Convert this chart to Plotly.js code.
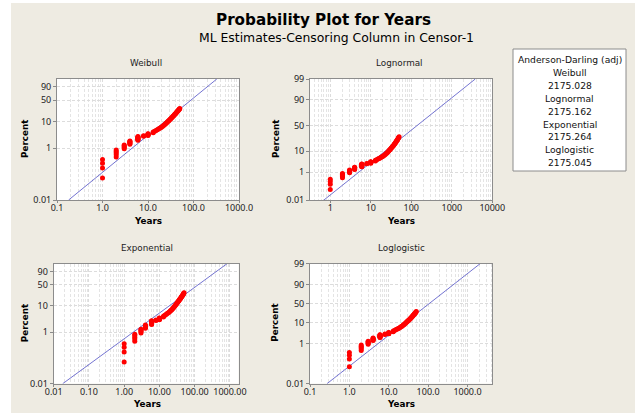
<!DOCTYPE html>
<html>
<head>
<meta charset="utf-8">
<script src="https://cdn.plot.ly/plotly-3.0.1.min.js"></script>
<style>
  html, body { margin: 0; padding: 0; background: #ffffff; width: 635px; height: 416px; overflow: hidden; }
  #chart { position: absolute; left: 11px; top: 3px; width: 624px; height: 410px; }
</style>
</head>
<body>
<div id="chart"></div>
<script>
// ---------------- data ----------------
const failureYears = [1,1,1,1, 2,2,2,2,2, 3,3,3,3,3, 4,4,4,4,4,4, 6,6,6,6,6,6,6,6,6, 8,8, 10,10,10,10,10,10,
  13,13,14,15,16,17,18,19,20,21,22,23,24,25,26,27,28,29,30,31,32,33,34,35,36,37,38,39,40,41,42,43,44,45,46,47,48,49,50];
const failurePercent = [0.07,0.17,0.26,0.36, 0.45,0.55,0.64,0.74,0.84, 0.93,1.03,1.12,1.22,1.31, 1.41,1.50,1.60,1.69,1.79,1.88,
  1.98,2.07,2.17,2.26,2.36,2.45,2.55,2.64,2.74, 2.83,2.93, 3.02,3.12,3.21,3.31,3.40,3.50,
  3.8,4.1,4.4,4.7,5.0,5.3,5.6,5.9,6.3,6.7,7.1,7.6,8.1,8.6,9.2,9.8,10.4,11.0,11.6,12.3,13.0,13.7,14.4,15.1,15.8,16.6,17.4,18.2,19.0,19.9,20.8,21.7,22.6,23.5,24.5,25.5,26.6,27.7,28.8];

// fitted lines: end points (years at 0.01 % and at 99 %)
const fitPercent = [0.01, 99];
const weibullFitYears = [0.18, 325];
const lognormalFitYears = [0.70, 3800];
const exponentialFitYears = [0.018, 830];
const loglogisticFitYears = [0.27, 2090];

// tick labels
const weibullXTicks = [0.1, 1, 10, 100, 1000];
const weibullXLabels = ["0.1", "1.0", "10.0", "100.0", "1000.0"];
const lognormalXTicks = [1, 10, 100, 1000, 10000];
const lognormalXLabels = ["1", "10", "100", "1000", "10000"];
const exponentialXTicks = [0.01, 0.1, 1, 10, 100, 1000];
const exponentialXLabels = ["0.01", "0.10", "1.00", "10.00", "100.00", "1000.00"];
const loglogisticXTicks = [0.1, 1, 10, 100, 1000];
const loglogisticXLabels = ["0.1", "1.0", "10.0", "100.0", "1000.0"];
const pctTicksA = [0.01, 1, 10, 50, 90];
const pctLabelsA = ["0.01", "1", "10", "50", "90"];
const pctTicksB = [0.01, 1, 10, 50, 90, 99];
const pctLabelsB = ["0.01", "1", "10", "50", "90", "99"];

// goodness of fit table
const adNames = ["Weibull", "Lognormal", "Exponential", "Loglogistic"];
const adValues = ["2175.028", "2175.162", "2175.264", "2175.045"];

// ---------------- probability scales ----------------
function weibullScale(pct) { const p = pct / 100; return Math.log(-Math.log(1 - p)); }
function logisticScale(pct) { const p = pct / 100; return Math.log(p / (1 - p)); }
function normalScale(pct) {
  const p = pct / 100;
  const a=[-3.969683028665376e+01,2.209460984245205e+02,-2.759285104469687e+02,1.383577518672690e+02,-3.066479806614716e+01,2.506628277459239e+00];
  const b=[-5.447609879822406e+01,1.615858368580409e+02,-1.556989798598866e+02,6.680131188771972e+01,-1.328068155288572e+01];
  const c=[-7.784894002430293e-03,-3.223964580411365e-01,-2.400758277161838e+00,-2.549732539343734e+00,4.374664141464968e+00,2.938163982698783e+00];
  const d=[7.784695709041462e-03,3.224671290700398e-01,2.445134137142996e+00,3.754408661907416e+00];
  const pl = 0.02425, ph = 1 - pl;
  if (p < pl) { const q = Math.sqrt(-2*Math.log(p)); return (((((c[0]*q+c[1])*q+c[2])*q+c[3])*q+c[4])*q+c[5])/((((d[0]*q+d[1])*q+d[2])*q+d[3])*q+1); }
  if (p <= ph) { const q = p-0.5, r = q*q; return (((((a[0]*r+a[1])*r+a[2])*r+a[3])*r+a[4])*r+a[5])*q/(((((b[0]*r+b[1])*r+b[2])*r+b[3])*r+b[4])*r+1); }
  const q = Math.sqrt(-2*Math.log(1-p)); return -(((((c[0]*q+c[1])*q+c[2])*q+c[3])*q+c[4])*q+c[5])/((((d[0]*q+d[1])*q+d[2])*q+d[3])*q+1);
}

// ---------------- styling ----------------
const BG = "#EEEBE2";
const TICKFONT = { family: "Noto Sans, DejaVu Sans, sans-serif", size: 9, color: "#222222" };
const TXT = "DejaVu Sans, sans-serif";
const FW = 624, FH = 410, OX = 11, OY = 3;
const px = x => (x - OX) / FW;
const py = y => 1 - (y - OY) / FH;
const GRID = "#dcdcdc", GRIDMINOR = "#e4e4e4", DASH = "3px,2px";

function xAxis(dom, yname, rng, tv, tt) {
  return {
    domain: dom, anchor: yname, type: "log", range: rng,
    tickmode: "array", tickvals: tv, ticktext: tt,
    ticks: "outside", ticklen: 2, tickcolor: "#8a8a8a", tickwidth: 1,
    ticklabelstandoff: -3,
    showline: true, mirror: true, linecolor: "#8c8c8c", linewidth: 1,
    showgrid: true, gridcolor: GRID, griddash: DASH, gridwidth: 1,
    minor: { dtick: "D1", showgrid: true, gridcolor: GRIDMINOR, griddash: DASH, gridwidth: 1, ticks: "" },
    zeroline: false, tickfont: TICKFONT, fixedrange: true
  };
}
function yAxis(dom, xname, scale, tv, tt) {
  return {
    domain: dom, anchor: xname,
    range: [scale(0.01), scale(99)],
    tickmode: "array", tickvals: tv.map(scale), ticktext: tt,
    ticks: "outside", ticklen: 3, tickcolor: "#8a8a8a", tickwidth: 1,
    showline: true, mirror: true, linecolor: "#8c8c8c", linewidth: 1,
    showgrid: true, gridcolor: GRID, griddash: DASH, gridwidth: 1,
    zeroline: false, tickfont: TICKFONT, fixedrange: true
  };
}

const panels = [
  { name: "Weibull", xa: "x", ya: "y", scale: weibullScale, fit: weibullFitYears },
  { name: "Lognormal", xa: "x2", ya: "y2", scale: normalScale, fit: lognormalFitYears },
  { name: "Exponential", xa: "x3", ya: "y3", scale: weibullScale, fit: exponentialFitYears },
  { name: "Loglogistic", xa: "x4", ya: "y4", scale: logisticScale, fit: loglogisticFitYears }
];

const traces = [];
panels.forEach(pn => {
  traces.push({
    type: "scatter", mode: "lines", xaxis: pn.xa, yaxis: pn.ya,
    x: pn.fit, y: fitPercent.map(pn.scale),
    line: { color: "#6464CC", width: 0.9 }, hoverinfo: "skip", cliponaxis: true
  });
  traces.push({
    type: "scatter", mode: "markers", xaxis: pn.xa, yaxis: pn.ya,
    x: failureYears, y: failurePercent.map(pn.scale),
    marker: { color: "#FF0000", size: 5, line: { width: 0 } }, cliponaxis: true
  });
});

const rowTop = [py(200), py(79)];
const rowBot = [py(383.7), py(263.7)];
const layout = {
  width: FW, height: FH,
  margin: { l: 0, r: 0, t: 0, b: 0 },
  paper_bgcolor: BG, plot_bgcolor: "#FFFFFF",
  showlegend: false,
  xaxis: xAxis([px(57), px(239)], "y", [-1, 3], weibullXTicks, weibullXLabels),
  yaxis: yAxis(rowTop, "x", weibullScale, pctTicksA, pctLabelsA),
  xaxis2: xAxis([px(310), px(492.3)], "y2", [-0.5, 4], lognormalXTicks, lognormalXLabels),
  yaxis2: yAxis(rowTop, "x2", normalScale, pctTicksB, pctLabelsB),
  xaxis3: xAxis([px(53.7), px(238.7)], "y3", [-2, 3.25], exponentialXTicks, exponentialXLabels),
  yaxis3: yAxis(rowBot, "x3", weibullScale, pctTicksA, pctLabelsA),
  xaxis4: xAxis([px(310), px(492.3)], "y4", [-1, 3.63], loglogisticXTicks, loglogisticXLabels),
  yaxis4: yAxis(rowBot, "x4", logisticScale, pctTicksB, pctLabelsB),
  shapes: [
    { type: "rect", xref: "paper", yref: "paper", x0: px(513), x1: px(626), y0: py(171), y1: py(49),
      fillcolor: "#FFFFFF", line: { color: "#8c8c8c", width: 1 } }
  ],
  annotations: []
};

function note(text, x, y, size, bold, extra) {
  layout.annotations.push(Object.assign({
    xref: "paper", yref: "paper", x: px(x), y: py(y), xanchor: "center", yanchor: "middle",
    text: bold ? "<b>" + text + "</b>" : text, showarrow: false,
    font: { family: TXT, size: size, color: "#000000" }
  }, extra || {}));
}

note("Probability Plot for Years", 323, 20, 15.2, true);
note("ML Estimates-Censoring Column in Censor-1", 336, 37.5, 12.4, false);

const subTitlePos = [[145.8, 63], [399.5, 63.3], [146.7, 248.3], [401, 248]];
panels.forEach((pn, i) => note(pn.name, subTitlePos[i][0], subTitlePos[i][1], 8.8, false, { font: { family: TXT, size: 8.8, color: "#222222" } }));

const percentPos = [[24.5, 139.5], [275.5, 139.5], [25, 323.2], [275.5, 323.2]];
percentPos.forEach(p => note("Percent", p[0], p[1], 8.8, true, { textangle: -90 }));
const yearsPos = [[148, 221], [401.2, 221], [146.5, 404], [400.7, 404]];
yearsPos.forEach(p => note("Years", p[0], p[1], 8.8, true));

const tableLines = ["Anderson-Darling (adj)"];
adNames.forEach((n, i) => { tableLines.push(n); tableLines.push(adValues[i]); });
tableLines.forEach((t, i) => note(t, 569.5, 59.5 + 12.9 * i, 9.2, false, { font: { family: TXT, size: 9.2, color: "#111111" } }));

Plotly.newPlot("chart", traces, layout, { displayModeBar: false, staticPlot: true });
</script>
</body>
</html>
